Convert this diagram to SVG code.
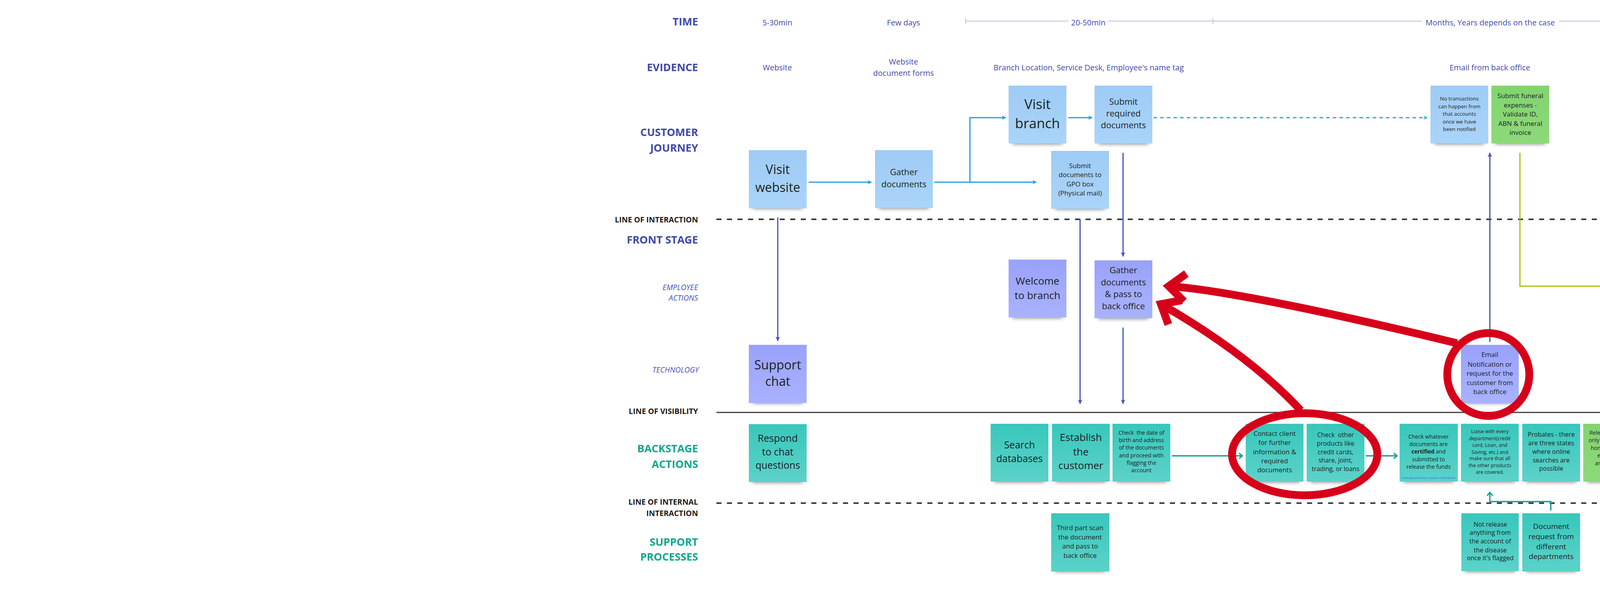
<svg xmlns="http://www.w3.org/2000/svg" width="6096" height="1522" viewBox="0 0 6096 1522">
<style>
text{font-family:"Open Sans","Liberation Sans",sans-serif}
.lbl{font-weight:700;font-size:27px;text-anchor:end}
.ind{fill:#3f48ab}.tea{fill:#0aa98b}.drk{fill:#1a1a1a;font-size:19.5px}
.it{font-style:italic;font-weight:400;font-size:19.5px;fill:#4a52b5;text-anchor:end}
.tm{font-size:20px;fill:#3f48ab;text-anchor:middle}
.note text{fill:#1b1f24;text-anchor:middle}
.sh{fill:#333;opacity:.55;filter:url(#blur)}
.blue .bg{fill:url(#gBlue)}.peri .bg{fill:url(#gPeri)}.teal .bg{fill:url(#gTeal)}.green .bg{fill:url(#gGreen)}
.c-blue{stroke:#1e9be6;stroke-width:3;fill:none}
.c-ind{stroke:#4050b5;stroke-width:3;fill:none}
.c-teal{stroke:#12a58f;stroke-width:3.5;fill:none}
.c-yg{stroke:#a6c400;stroke-width:3;fill:none}
.red{stroke:#d7001a;stroke-width:20;fill:none}
.tl{stroke:#c6c9ea;stroke-width:2.5;fill:none}
</style>
<defs>
<linearGradient id="gBlue" x1="0" y1="0" x2="0" y2="1"><stop offset="0" stop-color="#9ecbf5"/><stop offset="1" stop-color="#aad4f9"/></linearGradient>
<linearGradient id="gPeri" x1="0" y1="0" x2="0" y2="1"><stop offset="0" stop-color="#99a2fa"/><stop offset="1" stop-color="#a9b2ff"/></linearGradient>
<linearGradient id="gTeal" x1="0" y1="0" x2="0" y2="1"><stop offset="0" stop-color="#38c7bb"/><stop offset="1" stop-color="#5cd2c9"/></linearGradient>
<linearGradient id="gGreen" x1="0" y1="0" x2="0" y2="1"><stop offset="0" stop-color="#82d46e"/><stop offset="1" stop-color="#8dd97b"/></linearGradient>
<filter id="blur" x="-30%" y="-150%" width="160%" height="400%"><feGaussianBlur stdDeviation="5"/></filter>
<marker id="mBlue" viewBox="0 0 12 12" refX="11" refY="6" markerWidth="12" markerHeight="12" markerUnits="userSpaceOnUse" orient="auto"><path d="M1,0.5 L11.5,6 L1,11.5 L4,6 z" fill="#1e9be6"/></marker>
<marker id="mInd" viewBox="0 0 12 12" refX="11" refY="6" markerWidth="13" markerHeight="12" markerUnits="userSpaceOnUse" orient="auto"><path d="M0,0.5 L12,6 L0,11.5 L3,6 z" fill="#4050b5"/></marker>
<marker id="mTeal" viewBox="0 0 12 16" refX="11" refY="8" markerWidth="12" markerHeight="16" markerUnits="userSpaceOnUse" orient="auto"><path d="M2,1 L10.5,8 L2,15" fill="none" stroke="#12a58f" stroke-width="3.5"/></marker>
<marker id="mYg" viewBox="0 0 12 16" refX="11" refY="8" markerWidth="12" markerHeight="16" markerUnits="userSpaceOnUse" orient="auto"><path d="M2,1 L10.5,8 L2,15" fill="none" stroke="#a6c400" stroke-width="3.5"/></marker>
<marker id="mDot" viewBox="0 0 10 12" refX="9" refY="6" markerWidth="10" markerHeight="12" markerUnits="userSpaceOnUse" orient="auto"><path d="M1,1 L9,6 L1,11 L3,6 z" fill="#1aa3e8"/></marker>
</defs>
<rect width="6096" height="1522" fill="#ffffff"/>

<g id="lane-labels">
<text class="lbl ind" x="1787" y="65">TIME</text>
<text class="lbl ind" x="1787" y="182">EVIDENCE</text>
<text class="lbl ind" x="1787" y="348">CUSTOMER</text>
<text class="lbl ind" x="1787" y="388">JOURNEY</text>
<text class="lbl drk" x="1787" y="569">LINE OF INTERACTION</text>
<text class="lbl ind" x="1787" y="623">FRONT STAGE</text>
<text class="it" x="1787" y="742">EMPLOYEE</text>
<text class="it" x="1787" y="769">ACTIONS</text>
<text class="it" x="1789" y="953">TECHNOLOGY</text>
<text class="lbl drk" x="1787" y="1059">LINE OF VISIBILITY</text>
<text class="lbl tea" x="1787" y="1157">BACKSTAGE</text>
<text class="lbl tea" x="1787" y="1197">ACTIONS</text>
<text class="lbl drk" x="1787" y="1291">LINE OF INTERNAL</text>
<text class="lbl drk" x="1787" y="1320">INTERACTION</text>
<text class="lbl tea" x="1787" y="1396">SUPPORT</text>
<text class="lbl tea" x="1787" y="1434">PROCESSES</text>
</g>

<g id="lane-lines">
<line x1="1834" y1="561" x2="4532" y2="561" stroke="#3a3a3a" stroke-width="4" stroke-dasharray="13 14"/>
<line x1="1834" y1="1055" x2="4532" y2="1055" stroke="#3c3c3c" stroke-width="3"/>
<line x1="1834" y1="1287" x2="4532" y2="1287" stroke="#3a3a3a" stroke-width="4" stroke-dasharray="13 14"/>
</g>

<g id="time-row">
<text class="tm" x="1990" y="65">5-30min</text>
<text class="tm" x="2313" y="65">Few days</text>
<line class="tl" x1="2472" y1="54" x2="2736" y2="54"/>
<text class="tm" x="2786" y="65">20-50min</text>
<line class="tl" x1="2836" y1="54" x2="3640" y2="54"/>
<line class="tl" x1="2472" y1="47" x2="2472" y2="61"/>
<line class="tl" x1="3105" y1="47" x2="3105" y2="61"/>
<text class="tm" x="3815" y="65">Months, Years depends on the case</text>
<line class="tl" x1="3991" y1="54" x2="4531" y2="54"/>
<line class="tl" x1="4531" y1="47" x2="4531" y2="61"/>
</g>

<g id="evidence-row">
<text class="tm" x="1990" y="180">Website</text>
<text class="tm" x="2313" y="165">Website</text>
<text class="tm" x="2313" y="194">document forms</text>
<text class="tm" x="2787" y="180">Branch Location, Service Desk, Employee's name tag</text>
<text class="tm" x="3814" y="180">Email from back office</text>
</g>

<g id="connectors">
<path class="c-blue" d="M2070,466 H2231" marker-end="url(#mBlue)"/>
<path class="c-blue" d="M2392,466 H2653" marker-end="url(#mBlue)"/>
<path class="c-blue" d="M2483,466 V301 H2575" marker-end="url(#mBlue)"/>
<path class="c-blue" d="M2735,301 H2796" marker-end="url(#mBlue)"/>
<path d="M2953,301 H3653" stroke="#1aa3e8" stroke-width="3" stroke-dasharray="9 8" fill="none" marker-end="url(#mDot)"/>
<path class="c-ind" d="M1991,556 V872" marker-end="url(#mInd)"/>
<path class="c-ind" d="M2765,560 V1033" marker-end="url(#mInd)"/>
<path class="c-ind" d="M2875,391 V656" marker-end="url(#mInd)"/>
<path class="c-ind" d="M2875,838 V1033" marker-end="url(#mInd)"/>
<path class="c-ind" d="M3814,875 V391" marker-end="url(#mInd)"/>
<path class="c-yg" d="M3891,391 V732 H4125 V1074" marker-end="url(#mYg)"/>
<path class="c-teal" d="M3000,1166 H3181" marker-end="url(#mTeal)"/>
<path class="c-teal" d="M3496,1166 H3577" marker-end="url(#mTeal)"/>
<path class="c-teal" d="M4205,1167 H4285" marker-end="url(#mTeal)"/>
<path class="c-teal" d="M3970,1306 V1283 H3814 V1259" marker-end="url(#mTeal)"/>
</g>

<g id="visit-website" class="note blue" transform="translate(1917,384)">
<rect class="sh" x="10" y="136" width="128" height="14"/><rect class="bg" width="148" height="149"/>
<text font-size="32"><tspan x="74" y="61">Visit</tspan><tspan x="74" y="107">website</tspan></text></g>

<g id="gather-documents" class="note blue" transform="translate(2240,384)">
<rect class="sh" x="10" y="136" width="128" height="14"/><rect class="bg" width="148" height="148"/>
<text font-size="22"><tspan x="74" y="64">Gather</tspan><tspan x="74" y="95">documents</tspan></text></g>

<g id="visit-branch" class="note blue" transform="translate(2582,219)">
<rect class="sh" x="10" y="136" width="128" height="14"/><rect class="bg" width="148" height="148"/>
<text font-size="35"><tspan x="74" y="60">Visit</tspan><tspan x="74" y="109">branch</tspan></text></g>

<g id="submit-required" class="note blue" transform="translate(2802,219)">
<rect class="sh" x="10" y="136" width="128" height="14"/><rect class="bg" width="148" height="148"/>
<text font-size="22"><tspan x="74" y="49">Submit</tspan><tspan x="74" y="79">required</tspan><tspan x="74" y="109">documents</tspan></text></g>

<g id="submit-gpo" class="note blue" transform="translate(2691,386)">
<rect class="sh" x="10" y="136" width="128" height="14"/><rect class="bg" width="148" height="148"/>
<text font-size="17"><tspan x="74" y="44">Submit</tspan><tspan x="74" y="67">documents to</tspan><tspan x="74" y="91">GPO box</tspan><tspan x="74" y="114">(Physical mail)</tspan></text></g>

<g id="no-transactions" class="note blue" transform="translate(3662,219)">
<rect class="sh" x="10" y="136" width="128" height="14"/><rect class="bg" width="148" height="148"/>
<text font-size="13.5"><tspan x="74" y="38">No transactions</tspan><tspan x="74" y="58">can happen from</tspan><tspan x="74" y="77">that accounts</tspan><tspan x="74" y="97">once we have</tspan><tspan x="74" y="116">been notified</tspan></text></g>

<g id="submit-funeral" class="note green" transform="translate(3818,219)">
<rect class="sh" x="10" y="136" width="128" height="14"/><rect class="bg" width="148" height="148"/>
<text font-size="17"><tspan x="74" y="32">Submit funeral</tspan><tspan x="74" y="56">expenses -</tspan><tspan x="74" y="79">Validate ID,</tspan><tspan x="74" y="103">ABN &amp; funeral</tspan><tspan x="74" y="126">invoice</tspan></text></g>

<g id="welcome-branch" class="note peri" transform="translate(2582,664)">
<rect class="sh" x="10" y="136" width="128" height="14"/><rect class="bg" width="148" height="148"/>
<text font-size="26"><tspan x="74" y="64">Welcome</tspan><tspan x="74" y="101">to branch</tspan></text></g>

<g id="gather-pass" class="note peri" transform="translate(2802,666)">
<rect class="sh" x="10" y="136" width="128" height="14"/><rect class="bg" width="148" height="148"/>
<text font-size="22"><tspan x="74" y="33">Gather</tspan><tspan x="74" y="64">documents</tspan><tspan x="74" y="94">&amp; pass to</tspan><tspan x="74" y="125">back office</tspan></text></g>

<g id="support-chat" class="note peri" transform="translate(1917,882)">
<rect class="sh" x="10" y="136" width="128" height="14"/><rect class="bg" width="148" height="149"/>
<text font-size="32"><tspan x="74" y="63">Support</tspan><tspan x="74" y="105">chat</tspan></text></g>

<g id="email-notification" class="note peri" transform="translate(3740,882)">
<rect class="sh" x="10" y="136" width="128" height="14"/><rect class="bg" width="148" height="149"/>
<text font-size="17"><tspan x="74" y="31">Email</tspan><tspan x="74" y="56">Notification or</tspan><tspan x="74" y="79">request for the</tspan><tspan x="74" y="103">customer from</tspan><tspan x="74" y="126">back office</tspan></text></g>

<g id="respond-chat" class="note teal" transform="translate(1917,1085)">
<rect class="sh" x="10" y="136" width="128" height="14"/><rect class="bg" width="148" height="148"/>
<text font-size="25"><tspan x="74" y="45">Respond</tspan><tspan x="74" y="80">to chat</tspan><tspan x="74" y="114">questions</tspan></text></g>

<g id="search-databases" class="note teal" transform="translate(2536,1084)">
<rect class="sh" x="10" y="136" width="128" height="14"/><rect class="bg" width="148" height="148"/>
<text font-size="25"><tspan x="74" y="63">Search</tspan><tspan x="74" y="98">databases</tspan></text></g>

<g id="establish-customer" class="note teal" transform="translate(2693,1084)">
<rect class="sh" x="10" y="136" width="128" height="14"/><rect class="bg" width="148" height="148"/>
<text font-size="26"><tspan x="74" y="44">Establish</tspan><tspan x="74" y="81">the</tspan><tspan x="74" y="116">customer</tspan></text></g>

<g id="check-dob" class="note teal" transform="translate(2848,1084)">
<rect class="sh" x="10" y="136" width="128" height="14"/><rect class="bg" width="148" height="148"/>
<text font-size="14" style="white-space:pre"><tspan x="74" y="28">Check  the date of</tspan><tspan x="74" y="47">birth and address</tspan><tspan x="74" y="66">of the documents</tspan><tspan x="74" y="86">and proceed with</tspan><tspan x="74" y="105">flagging the</tspan><tspan x="74" y="124">account</tspan></text></g>

<g id="contact-client" class="note teal" transform="translate(3189,1084)">
<rect class="sh" x="10" y="136" width="128" height="14"/><rect class="bg" width="148" height="148"/>
<text font-size="17"><tspan x="74" y="31">Contact client</tspan><tspan x="74" y="54">for further</tspan><tspan x="74" y="78">information &amp;</tspan><tspan x="74" y="101">required</tspan><tspan x="74" y="124">documents</tspan></text></g>

<g id="check-products" class="note teal" transform="translate(3345,1084)">
<rect class="sh" x="10" y="136" width="128" height="14"/><rect class="bg" width="148" height="148"/>
<text font-size="16" style="white-space:pre"><tspan x="74" y="34">Check  other</tspan><tspan x="74" y="56">products like</tspan><tspan x="74" y="78">credit cards,</tspan><tspan x="74" y="99">share, joint,</tspan><tspan x="74" y="121">trading, or loans</tspan></text></g>

<g id="check-certified" class="note teal" transform="translate(3583,1084)">
<rect class="sh" x="10" y="136" width="128" height="14"/><rect class="bg" width="149" height="148"/>
<text font-size="14"><tspan x="74" y="38">Check whatever</tspan><tspan x="74" y="57">documents are</tspan><tspan x="74" y="76"><tspan font-weight="700">certified</tspan> and</tspan><tspan x="74" y="96">submitted to</tspan><tspan x="74" y="115">release the funds</tspan></text>
<text font-size="6.3" x="74" y="141" style="fill:#2f6fe0">Checking authenticity or practice of that person</text></g>

<g id="liaise-departments" class="note teal" transform="translate(3740,1084)">
<rect class="sh" x="10" y="136" width="128" height="14"/><rect class="bg" width="148" height="148"/>
<text font-size="12.5"><tspan x="74" y="24">Liaise with every</tspan><tspan x="74" y="42">department(credit</tspan><tspan x="74" y="59">card, Loan, and</tspan><tspan x="74" y="77">Saving, etc.) and</tspan><tspan x="74" y="93">make sure that all</tspan><tspan x="74" y="111">the other products</tspan><tspan x="74" y="128">are covered.</tspan></text></g>

<g id="probates" class="note teal" transform="translate(3897,1084)">
<rect class="sh" x="10" y="136" width="128" height="14"/><rect class="bg" width="148" height="148"/>
<text font-size="16"><tspan x="74" y="33">Probates - there</tspan><tspan x="74" y="55">are three states</tspan><tspan x="74" y="77">where online</tspan><tspan x="74" y="99">searches are</tspan><tspan x="74" y="120">possible</tspan></text></g>

<g id="release-funds" class="note green" transform="translate(4053,1084)">
<rect class="sh" x="10" y="136" width="128" height="14"/><rect class="bg" width="148" height="148"/>
<text font-size="14"><tspan x="74" y="28">Release the funds</tspan><tspan x="74" y="47">only to the funeral</tspan><tspan x="74" y="67">home, not to the</tspan><tspan x="74" y="86">executor or</tspan><tspan x="74" y="106">anyone else's</tspan><tspan x="74" y="126">name</tspan></text></g>

<g id="finalize-estate" class="note teal" transform="translate(4293,1084)">
<rect class="sh" x="10" y="136" width="128" height="14"/><rect class="bg" width="148" height="148"/>
<text font-size="29"><tspan x="74" y="41">Finalize</tspan><tspan x="74" y="81">the</tspan><tspan x="74" y="121">estate</tspan></text></g>

<g id="third-party-scan" class="note teal" transform="translate(2691,1313)">
<rect class="sh" x="10" y="136" width="128" height="14"/><rect class="bg" width="149" height="149"/>
<text font-size="17"><tspan x="74" y="43">Third part scan</tspan><tspan x="74" y="67">the document</tspan><tspan x="74" y="90">and pass to</tspan><tspan x="74" y="114">back office</tspan></text></g>

<g id="not-release" class="note teal" transform="translate(3741,1313)">
<rect class="sh" x="10" y="136" width="128" height="14"/><rect class="bg" width="147" height="148"/>
<text font-size="16"><tspan x="74" y="34">Not release</tspan><tspan x="74" y="55">anything from</tspan><tspan x="74" y="77">the account of</tspan><tspan x="74" y="100">the disease</tspan><tspan x="74" y="120">once it's flagged</tspan></text></g>

<g id="document-request" class="note teal" transform="translate(3897,1313)">
<rect class="sh" x="10" y="136" width="128" height="14"/><rect class="bg" width="148" height="149"/>
<text font-size="19"><tspan x="74" y="40">Document</tspan><tspan x="74" y="66">request from</tspan><tspan x="74" y="92">different</tspan><tspan x="74" y="117">departments</tspan></text></g>

<g id="annotations">
<ellipse class="red" cx="3810" cy="958" rx="105" ry="106"/>
<ellipse class="red" cx="3340" cy="1162" rx="186" ry="105"/>
<path class="red" d="M3730,878 Q3189,747 2994,732"/>
<polyline class="red" points="3037,700 2992,732 3031,771" stroke-linejoin="miter"/>
<path class="red" d="M3330,1050 Q3200,909 2974,779"/>
<polyline class="red" points="3026,768 2972,778 2991,830" stroke-linejoin="miter"/>
</g>
</svg>
